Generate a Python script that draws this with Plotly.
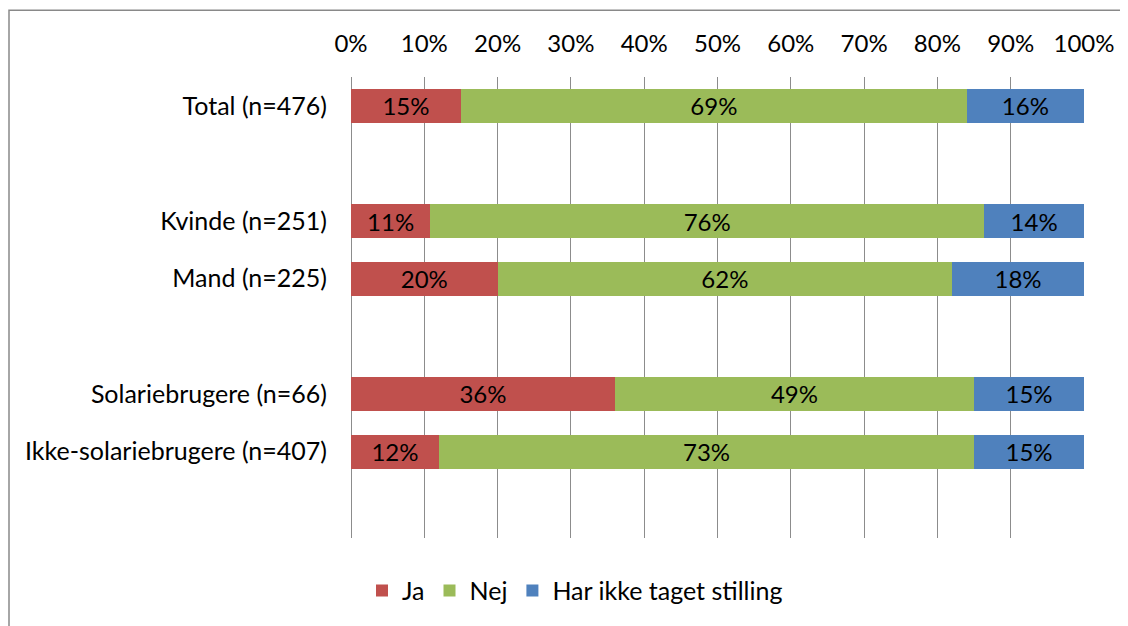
import plotly.graph_objects as go

categories = ["Total (n=476)", " ", "Kvinde (n=251)", "Mand (n=225)", "  ",
              "Solariebrugere (n=66)", "Ikke-solariebrugere (n=407)", "   "]
ja = [15, None, 10.8, 20, None, 36, 12, None]
nej = [69, None, 75.6, 62, None, 49, 73, None]
har_ikke = [16, None, 13.6, 18, None, 15, 15, None]
series_names = ["Ja", "Nej", "Har ikke taget stilling"]
colors = ["#C0504D", "#9BBB59", "#4F81BD"]
x_ticks = [0, 10, 20, 30, 40, 50, 60, 70, 80, 90, 100]

FONT = "Lato"
FS = 24
OFF = 8  # page body margin
fig = go.Figure()
for name, vals, col in zip(series_names, [ja, nej, har_ikke], colors):
    fig.add_trace(go.Bar(
        y=categories, x=vals, name=name, orientation="h",
        marker=dict(color=col, line=dict(width=0)),
        text=[f"{v:.0f}%" if v is not None else "" for v in vals],
        textposition="inside", insidetextanchor="middle",
        textfont=dict(color="black", size=FS, family=FONT),
        constraintext="none",
    ))

W, H = 1128 - OFF, 626 - OFF
L, R, T, B = 351 - OFF, 1084 - OFF, 77 - OFF, 540 - OFF
pw, ph = R - L, B - T

fig.update_layout(
    barmode="stack", bargap=0.41,
    width=W, height=H,
    margin=dict(l=L, r=W - R, t=T, b=H - B),
    paper_bgcolor="white", plot_bgcolor="white",
    font=dict(family=FONT, size=FS, color="black"),
    showlegend=True,
    legend=dict(orientation="h", x=(362 - OFF - L) / pw, xanchor="left",
                y=(B - (593 - OFF)) / ph, yanchor="middle",
                font=dict(size=25, family=FONT), traceorder="normal"),
    xaxis=dict(range=[0, 100], side="top", tickvals=x_ticks,
               ticktext=[f"{v}%" for v in x_ticks],
               showgrid=True, gridcolor="#8C8C8C", gridwidth=1.3,
               zeroline=True, zerolinecolor="#8C8C8C", zerolinewidth=1.3,
               showline=False,
               ticks="outside", ticklen=14, tickcolor="rgba(0,0,0,0)",
               fixedrange=True),
    yaxis=dict(categoryorder="array", categoryarray=categories,
               range=[7.5, -0.5], showgrid=False, zeroline=False,
               tickfont=dict(size=25, family=FONT),
               ticks="outside", ticklen=18, tickcolor="rgba(0,0,0,0)",
               showline=False),
    shapes=[dict(type="rect", xref="paper", yref="paper",
                 x0=(9 - OFF - L) / pw, x1=(1150 - L) / pw,
                 y0=(B - 650) / ph, y1=(B - (10 - OFF)) / ph,
                 line=dict(color="#898989", width=1.5), layer="below")],
)
fig.write_html("out.html")
